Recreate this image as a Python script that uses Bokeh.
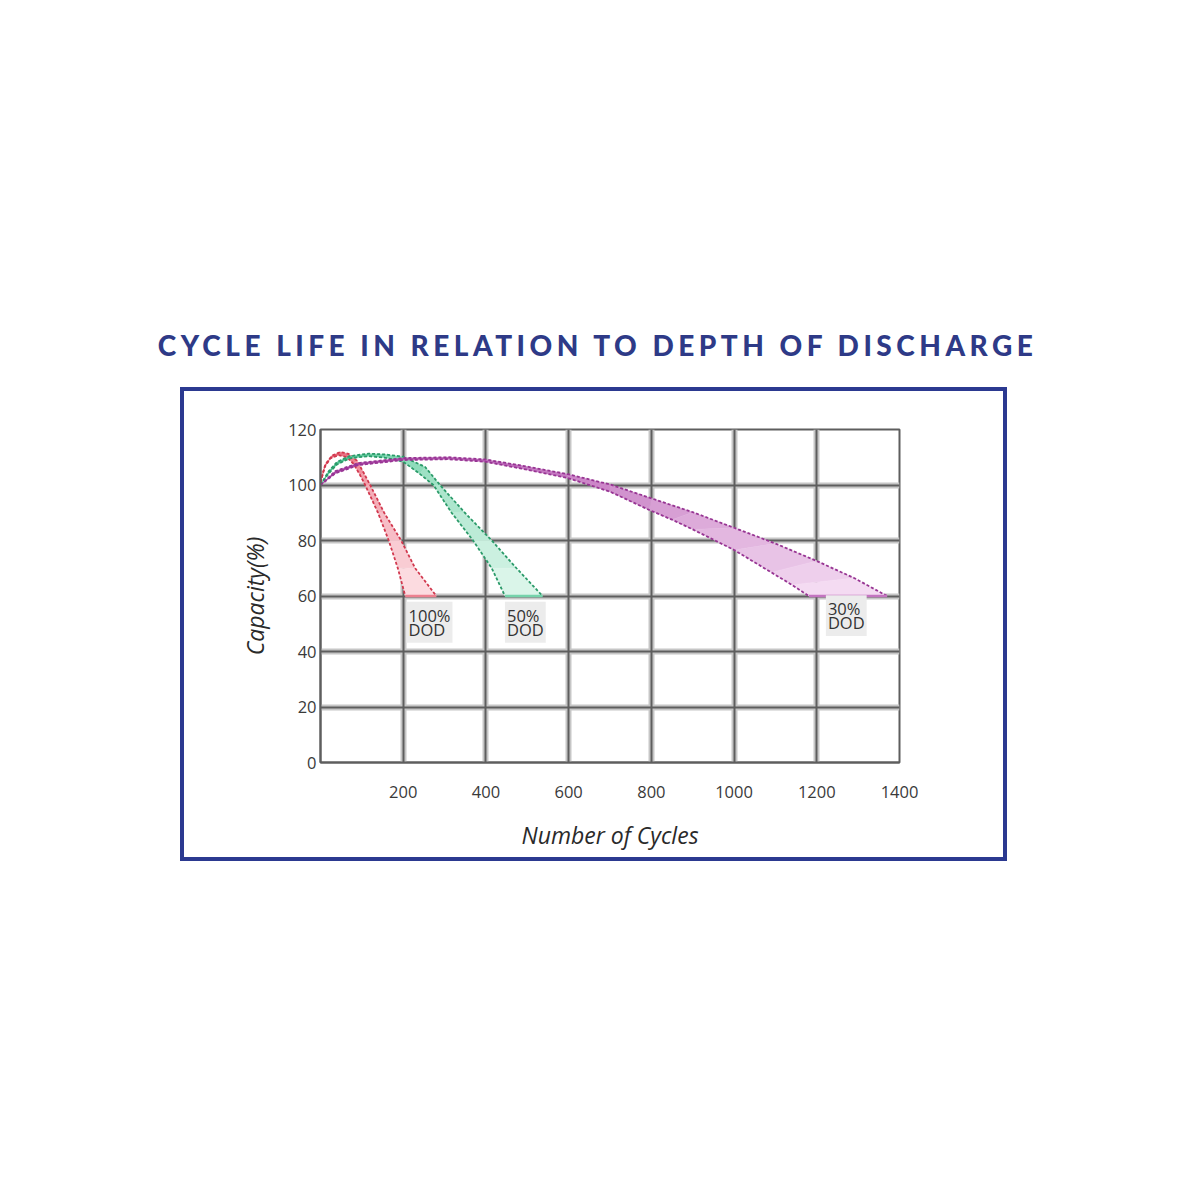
from bokeh.plotting import figure
from bokeh.models import Div, FixedTicker, Grid, ColumnDataSource
from bokeh.layouts import column
from bokeh.core.properties import value
from bokeh.embed import file_html
from bokeh.resources import INLINE

TITLE = "CYCLE LIFE IN RELATION TO DEPTH OF DISCHARGE"
X_LABEL = "Number of Cycles"
Y_LABEL = "Capacity(%)"
X_TICKS = [200, 400, 600, 800, 1000, 1200, 1400]
Y_TICKS = [0, 20, 40, 60, 80, 100, 120]

# 100% DOD band (outer = late-fading edge, inner = early-fading edge)
red_outer_x = [0, 12, 28, 48, 68, 88, 104, 120, 154, 195, 229, 280]
red_outer_y = [101, 107.5, 110.6, 111.9, 111.2, 108.8, 104.5, 100, 90, 80, 70, 60]
red_inner_x = [0, 10, 24, 44, 64, 80, 96, 108, 139, 165, 187, 205]
red_inner_y = [101, 106.5, 109.6, 110.8, 110.0, 107.6, 103.5, 100, 90, 80, 70, 60]

# 50% DOD band
green_outer_x = [0, 20, 40, 70, 116, 157, 200, 253, 289, 349, 414, 474, 537]
green_outer_y = [100, 105, 108.3, 110.4, 111.3, 111.0, 110.2, 106.5, 100, 90, 80, 70, 60]
green_inner_x = [0, 20, 40, 70, 116, 157, 200, 240, 273, 317, 369, 414, 446]
green_inner_y = [100, 104.2, 107.4, 109.6, 110.4, 109.8, 108.4, 104.0, 100, 90, 80, 70, 60]

# 30% DOD band
purple_outer_x = [0, 36, 92, 200, 309, 398, 486, 598, 700, 800, 900, 1000, 1100, 1200, 1290, 1370]
purple_outer_y = [100, 105, 107.9, 109.7, 110.0, 109.2, 107, 103.9, 100.2, 95.2, 90.2, 84.6, 78.9, 72.6, 66.5, 60]
purple_inner_x = [0, 36, 92, 200, 309, 398, 486, 598, 700, 795, 850, 900, 1000, 1090, 1140, 1181]
purple_inner_y = [100, 104.2, 107.2, 109, 109.3, 108.4, 105.9, 102.5, 97.6, 91, 87.5, 84, 76.6, 68.5, 64, 60]

LABELS = ["100%\nDOD", "50%\nDOD", "30%\nDOD"]
LABEL_X = [208, 446, 1222]
LABEL_Y = [57.9, 57.9, 60.3]


def mix(c0, c1, t):
    return "#%02x%02x%02x" % tuple(int(round(a + (b - a) * t)) for a, b in zip(c0, c1))


BAND_STYLES = [
    ((226, 62, 84), (253, 226, 231), "#d1384e"),
    ((44, 186, 126), (226, 248, 238), "#2b9a69"),
    ((160, 44, 156), (247, 225, 245), "#973593"),
]
BANDS = [
    (red_outer_x, red_outer_y, red_inner_x, red_inner_y),
    (green_outer_x, green_outer_y, green_inner_x, green_inner_y),
    (purple_outer_x, purple_outer_y, purple_inner_x, purple_inner_y),
]

p = figure(width=827, height=474, x_range=(0, 1400), y_range=(0, 120),
           output_backend="svg", toolbar_location=None,
           min_border_left=136, min_border_right=112,
           min_border_top=38, min_border_bottom=103,
           margin=(17, 0, 0, 180),
           styles={"border": "4px solid #2b3990"})
p.background_fill_color = "white"
p.border_fill_color = "white"
p.outline_line_color = "#5e5e5e"
p.outline_line_width = 2

xt = FixedTicker(ticks=X_TICKS)
yt = FixedTicker(ticks=Y_TICKS)
p.xaxis.ticker = xt
p.yaxis.ticker = yt
p.xgrid.ticker = xt
p.ygrid.ticker = yt
for g in (p.xgrid, p.ygrid):
    g.grid_line_color = "#c6c6c6"
    g.grid_line_width = 6
p.add_layout(Grid(dimension=0, ticker=xt, grid_line_color="#5e5e5e", grid_line_width=2))
p.add_layout(Grid(dimension=1, ticker=yt, grid_line_color="#5e5e5e", grid_line_width=2))

for ax in (p.xaxis[0], p.yaxis[0]):
    ax.axis_line_color = "#5e5e5e"
    ax.axis_line_width = 2
    ax.major_tick_line_color = None
    ax.minor_tick_line_color = None
    ax.major_tick_out = 0
    ax.major_tick_in = 0
    ax.major_label_text_font = "Open Sans"
    ax.major_label_text_font_size = "16.5px"
    ax.major_label_text_color = "#3a3a3a"
    ax.axis_label_text_font = "Open Sans"
    ax.axis_label_text_font_style = "italic"
    ax.axis_label_text_font_size = "23px"
    ax.axis_label_text_color = "#2a2a2a"
p.xaxis.axis_label = X_LABEL
p.yaxis.axis_label = Y_LABEL
p.xaxis.major_label_standoff = 23
p.xaxis.axis_label_standoff = 18
p.yaxis.major_label_standoff = 4
p.yaxis.axis_label_standoff = 14

for (ox, oy, ix, iy), (c0, c1, lc) in zip(BANDS, BAND_STYLES):
    n = len(ox)
    xs, ys, cols = [], [], []
    for i in range(n - 1):
        xs.append([ix[i], ix[i + 1], ox[i + 1], ox[i]])
        ys.append([iy[i], iy[i + 1], oy[i + 1], oy[i]])
        cols.append(mix(c0, c1, (i + 0.5) / (n - 1)))
    p.patches(xs, ys, fill_color=cols, line_color=cols, line_width=0.5)
    p.line(ox, oy, line_color=lc, line_width=1.8, line_dash="3 2")
    p.line(ix, iy, line_color=lc, line_width=1.8, line_dash="3 2")
    p.line([ix[-1], ox[-1]], [iy[-1], oy[-1]], line_color=mix(c0, c1, 0.4), line_width=2.5)

src = ColumnDataSource(dict(x=LABEL_X, y=LABEL_Y, t=LABELS))
p.text(x="x", y="y", text="t", source=src, text_font=value("Open Sans"),
       text_font_size="16.5px", text_color="#333333", text_align="left",
       text_baseline="top", text_line_height=0.6,
       background_fill_color="#ececec", padding=2)

title_div = Div(text=TITLE, width=1195, height=50, margin=(320, 0, 0, 0),
                styles={"font-family": "Lato", "font-weight": "900",
                        "font-size": "28px", "letter-spacing": "4.5px",
                        "color": "#2e3a87", "text-align": "center",
                        "line-height": "50px"})

layout = column(title_div, p)
open("out.html", "w").write(file_html(layout, INLINE))
